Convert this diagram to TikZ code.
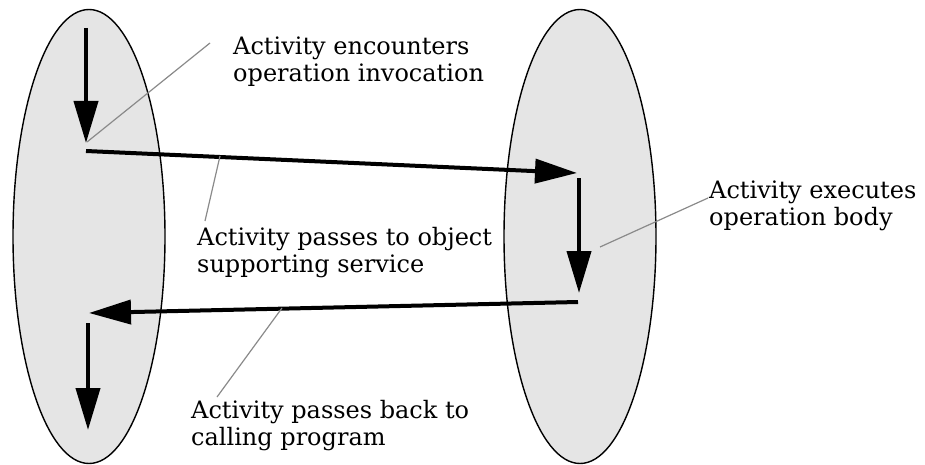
\documentclass[tikz,border=0pt]{standalone}
\usepackage{fontspec}
\setmainfont{DejaVu Serif}
\usetikzlibrary{arrows.meta,shapes.geometric}
\definecolor{lobe}{HTML}{E5E5E5}
\definecolor{leader}{HTML}{8A8A8A}
\tikzset{
  lobe/.style={draw=black, line width=1.4pt, fill=lobe, ellipse, inner sep=0pt,
    minimum width=152pt, minimum height=454pt},
  flow/.style={line width=4pt, -{Triangle[length=42pt,width=24pt]}},
  leaderline/.style={draw=leader, line width=1.2pt},
  caption/.style={align=left, inner sep=0pt, anchor=base west,
    font=\fontsize{24}{27}\selectfont}
}
\begin{document}
\begin{tikzpicture}[x=1pt,y=-1pt]
\useasboundingbox (0,0) rectangle (925,465);
% the two objects
\node[lobe] (caller) at (89,236.5) {};
\node[lobe] (server) at (580,236.5) {};
% path of the activity
\coordinate (c1) at (86,28);
\coordinate (c2) at (86,143);
\coordinate (c3) at (86,151);
\coordinate (s1) at (577,173);
\coordinate (s2) at (579,178);
\coordinate (s3) at (579,293);
\coordinate (s4) at (578,302);
\coordinate (c4) at (89,313);
\coordinate (c5) at (88,323);
\coordinate (c6) at (88,430);
\draw[flow] (c1) -- (c2);
\draw[flow] (c3) -- (s1);
\draw[flow] (s2) -- (s3);
\draw[flow] (s4) -- (c4);
\draw[flow] (c5) -- (c6);
% captions (anchored on the baseline of their last line)
\node[caption] (t1) at (233,82) {Activity encounters\\operation invocation};
\node[caption] (t2) at (197,272) {Activity passes to object\\supporting service};
\node[caption] (t3) at (709,225) {Activity executes\\operation body};
\node[caption] (t4) at (191,445) {Activity passes back to\\calling program};
% leader lines
\coordinate (l1a) at (87,142);
\coordinate (l1b) at (210,43);
\coordinate (l2a) at (220,156);
\coordinate (l2b) at (205,221);
\coordinate (l3a) at (600,247);
\coordinate (l3b) at (708,198);
\coordinate (l4a) at (282,308);
\coordinate (l4b) at (217,397);
\draw[leaderline] (l1a) -- (l1b);
\draw[leaderline] (l2a) -- (l2b);
\draw[leaderline] (l3a) -- (l3b);
\draw[leaderline] (l4a) -- (l4b);
\end{tikzpicture}
\end{document}
